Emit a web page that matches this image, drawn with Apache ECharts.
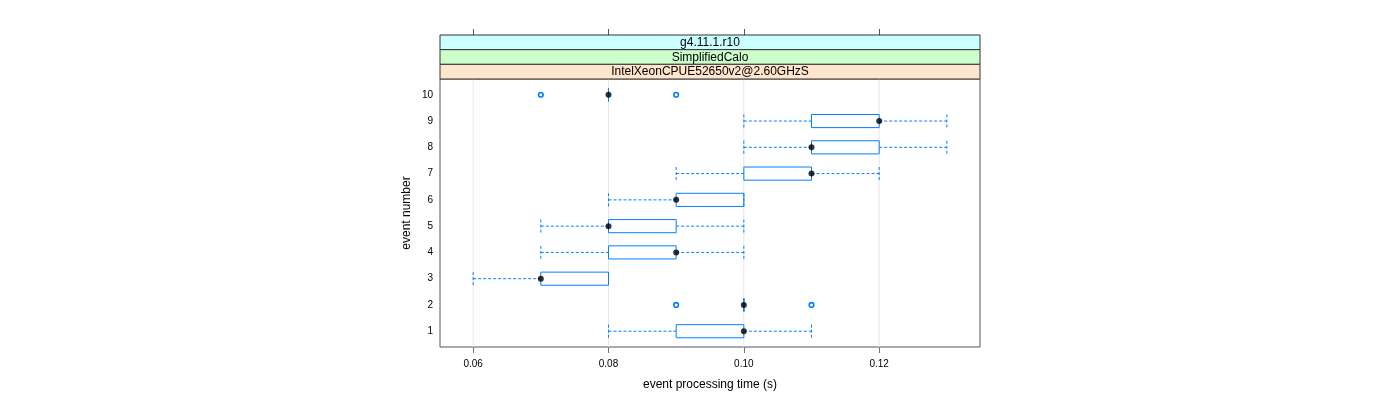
<!DOCTYPE html>
<html>
<head>
<meta charset="utf-8">
<script src="https://cdn.jsdelivr.net/npm/echarts@6/dist/echarts.min.js"></script>
<style>html,body{margin:0;padding:0;background:#fff}#c{width:1400px;height:400px}</style>
</head>
<body>
<div id="c"></div>
<script>
// ---- data ----
const events = [1, 2, 3, 4, 5, 6, 7, 8, 9, 10];
const whiskerLow  = [0.08, 0.10, 0.06, 0.07, 0.07, 0.08, 0.09, 0.10, 0.10, 0.08];
const q1          = [0.09, 0.10, 0.07, 0.08, 0.08, 0.09, 0.10, 0.11, 0.11, 0.08];
const medians     = [0.10, 0.10, 0.07, 0.09, 0.08, 0.09, 0.11, 0.11, 0.12, 0.08];
const q3          = [0.10, 0.10, 0.08, 0.09, 0.09, 0.10, 0.11, 0.12, 0.12, 0.08];
const whiskerHigh = [0.11, 0.10, 0.08, 0.10, 0.10, 0.10, 0.12, 0.13, 0.13, 0.08];
const outlierX = [0.09, 0.11, 0.07, 0.09];
const outlierY = [2, 2, 10, 10];
const xTicks = [0.06, 0.08, 0.10, 0.12];
const yTicks = [1, 2, 3, 4, 5, 6, 7, 8, 9, 10];
const stripLabels = ['g4.11.1.r10', 'SimplifiedCalo', 'IntelXeonCPUE52650v2@2.60GHzS'];
const stripColors = ['#ccffff', '#ccffcc', '#ffe5cc'];
const xMin = 0.0551, xMax = 0.1349, yMin = 0.4, yMax = 10.6;

// ---- layout ----
const G = {left: 440, top: 79, width: 540, height: 268};
const stripH = 44 / 3;
const FONT = "'Liberation Sans', Arial, Helvetica, sans-serif";
const BLUE = '#0080ff';

const boxData = events.map((e, i) => [e, whiskerLow[i], q1[i], medians[i], q3[i], whiskerHigh[i]]);

const chart = echarts.init(document.getElementById('c'), null, {renderer: 'canvas'});

const graphics = [];
stripLabels.forEach((t, i) => {
  const y = G.top - stripH * (stripLabels.length - i);
  graphics.push({
    type: 'rect', z: 10,
    shape: {x: G.left, y: y, width: G.width, height: stripH},
    style: {fill: stripColors[i], stroke: '#333', lineWidth: 1}
  });
  graphics.push({
    type: 'text', z: 11,
    x: G.left + G.width / 2, y: y + stripH / 2 + 0.5,
    style: {text: t, fill: '#000', font: '12px ' + FONT, align: 'center', verticalAlign: 'middle'}
  });
});

const option = {
  animation: false,
  backgroundColor: '#fff',
  textStyle: {fontFamily: FONT},
  grid: {left: G.left, top: G.top, width: G.width, height: G.height, show: true,
         borderColor: '#555', borderWidth: 1, backgroundColor: 'transparent'},
  xAxis: [{
    type: 'value', min: xMin, max: xMax, position: 'bottom',
    name: 'event processing time (s)', nameLocation: 'middle', nameGap: 32,
    nameTextStyle: {fontSize: 12, color: '#000', fontFamily: FONT},
    axisLine: {show: false},
    axisTick: {show: true, customValues: xTicks, length: 6, inside: false, lineStyle: {color: '#777'}},
    axisLabel: {customValues: xTicks, fontSize: 10, color: '#000', margin: 12, fontFamily: FONT,
                formatter: v => v.toFixed(2)},
    splitLine: {show: false}
  }, {
    type: 'value', min: xMin, max: xMax, position: 'top', offset: 44,
    axisLine: {show: false},
    axisTick: {show: true, customValues: xTicks, length: 6, inside: false, lineStyle: {color: '#555'}},
    axisLabel: {show: false},
    splitLine: {show: false}
  }],
  yAxis: {
    type: 'value', min: yMin, max: yMax,
    name: 'event number', nameLocation: 'middle', nameGap: 27, nameRotate: 90,
    nameTextStyle: {fontSize: 12, color: '#000', fontFamily: FONT},
    axisLine: {show: false},
    axisTick: {show: false},
    axisLabel: {customValues: yTicks, fontSize: 10, color: '#000', margin: 7, fontFamily: FONT},
    splitLine: {show: false}
  },
  graphic: graphics,
  series: [
    {
      type: 'custom', name: 'grid', z: 1, silent: true,
      data: xTicks.map(v => [v]),
      renderItem: (params, api) => {
        const x = api.value(0);
        const p1 = api.coord([x, yMin]);
        const p2 = api.coord([x, yMax]);
        return {type: 'line', shape: {x1: p1[0], y1: p1[1], x2: p2[0], y2: p2[1]},
                style: {stroke: '#e6e6e6', lineWidth: 1}};
      }
    },
    {
      type: 'custom', name: 'box', z: 2, silent: true,
      data: boxData,
      renderItem: (params, api) => {
        const y = api.value(0);
        const lo = api.value(1), a = api.value(2), b = api.value(4), hi = api.value(5);
        const half = 0.25;
        const pLo = api.coord([lo, y]), pA = api.coord([a, y]), pB = api.coord([b, y]), pHi = api.coord([hi, y]);
        const top = api.coord([a, y + half])[1], bot = api.coord([a, y - half])[1];
        const dash = {stroke: BLUE, lineWidth: 1, lineDash: [3, 2]};
        return {
          type: 'group',
          children: [
            {type: 'line', shape: {x1: pLo[0], y1: pLo[1], x2: pA[0], y2: pA[1]}, style: dash},
            {type: 'line', shape: {x1: pB[0], y1: pB[1], x2: pHi[0], y2: pHi[1]}, style: dash},
            {type: 'line', shape: {x1: pLo[0], y1: top, x2: pLo[0], y2: bot}, style: dash},
            {type: 'line', shape: {x1: pHi[0], y1: top, x2: pHi[0], y2: bot}, style: dash},
            {type: 'rect', shape: {x: pA[0], y: top, width: pB[0] - pA[0], height: bot - top},
             style: {stroke: BLUE, fill: null, lineWidth: 1}}
          ]
        };
      }
    },
    {
      type: 'custom', name: 'outliers', z: 3, silent: true,
      data: outlierX.map((x, i) => [x, outlierY[i]]),
      renderItem: (params, api) => {
        const p = api.coord([api.value(0), api.value(1)]);
        return {type: 'circle', shape: {cx: p[0], cy: p[1], r: 2.3},
                style: {stroke: BLUE, fill: '#fff', lineWidth: 1.6}};
      }
    },
    {
      type: 'scatter', name: 'median', z: 4, silent: true,
      symbol: 'circle', symbolSize: 6,
      itemStyle: {color: '#000'},
      data: medians.map((m, i) => [m, events[i]])
    }
  ]
};
chart.setOption(option);
</script>
</body>
</html>
